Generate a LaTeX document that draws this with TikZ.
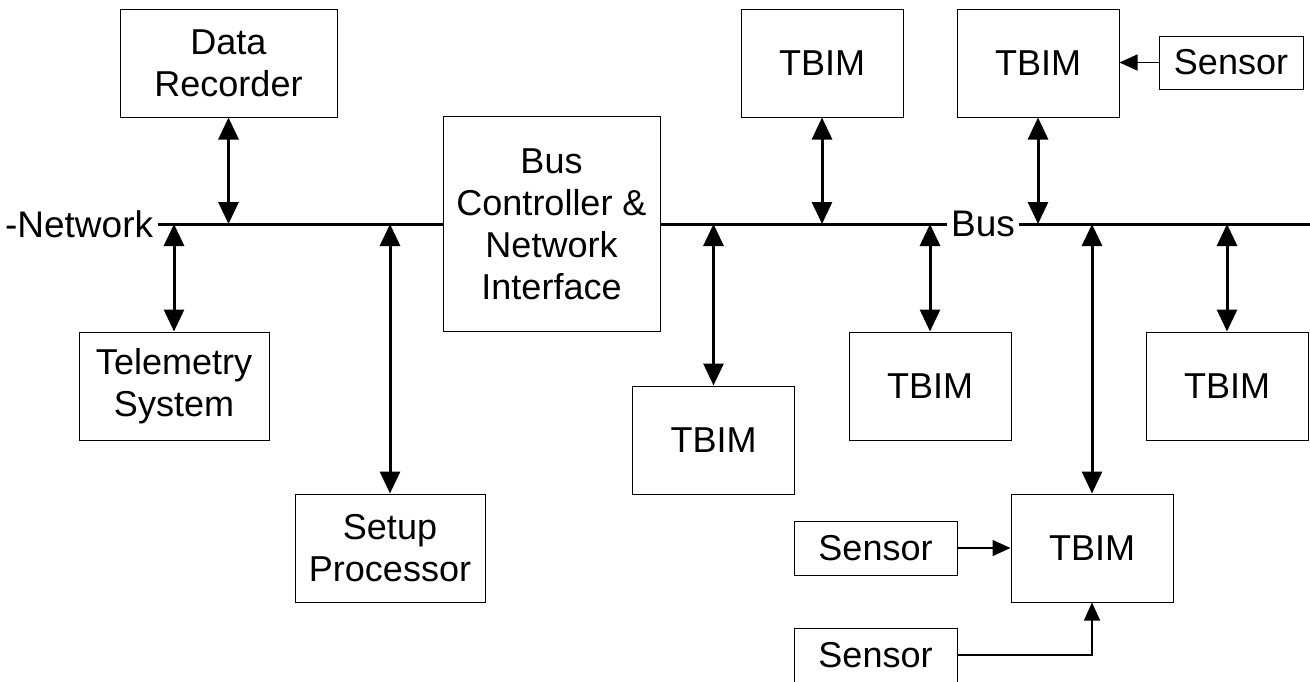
\documentclass[tikz,border=0pt]{standalone}
\usepackage{fontspec}
\setmainfont{Liberation Sans}
\usepackage{tikz}
\usetikzlibrary{positioning, arrows.meta}

\begin{document}
\begin{tikzpicture}[x=0.5pt, y=-0.5pt,
    box/.style={draw, line width=0.5pt, inner sep=0pt, align=center, font=\fontsize{18}{21}\selectfont},
    tbim/.style={box, minimum width=81pt, minimum height=54pt},
    sensor/.style={box, minimum width=81.5pt, minimum height=27pt},
    label/.style={inner xsep=2pt, inner ysep=0pt, font=\fontsize{18.5}{21}\selectfont},
    busline/.style={line width=1.5pt},
    busarrow/.style={line width=1.5pt, {Triangle[length=11pt,width=10pt]}-{Triangle[length=11pt,width=10pt]}},
    sigarrow/.style={line width=0.75pt, -{Triangle[length=9pt,width=8pt]}}]
    \useasboundingbox (0,0) rectangle (1310,681);
    \clip (0,0) rectangle (1310,681);

    % Bus labels
    \node[label, anchor=east] (net) at (157.5,224) {-Network};
    \node[label] (bus) at (983,224) {Bus};
    \coordinate (busend) at (1310,224);

    % Boxes on the network side
    \node[box, minimum width=108.5pt, minimum height=54pt] (dr) at (228.5,63) {Data\\Recorder};
    \node[box, minimum width=95pt, minimum height=54pt] (tel) at (174,386) {Telemetry\\System};
    \node[box, minimum width=95pt, minimum height=54pt] (setup) at (390,548) {Setup\\Processor};
    \node[box, minimum width=108.5pt, minimum height=107.5pt] (bc) at (551.5,224) {Bus\\Controller \&\\Network\\Interface};

    % TBIMs
    \foreach \n/\x/\y in {ta/822/63, tb/1038/63, tc/713.5/440, td/930/386, te/1227/386, tf/1092/548} {
      \node[tbim] (\n) at (\x,\y) {TBIM};
    }

    % Sensors
    \node[sensor, minimum width=72pt, minimum height=26.5pt] (sa) at (1231,62.5) {Sensor};
    \node[sensor] (sb) at (875.5,548) {Sensor};
    \node[sensor] (sc) at (875.5,655) {Sensor};

    % Draw bus
    \draw[busline] (net.east) -- (bc.west);
    \draw[busline] (bc.east) -- (bus.west);
    \draw[busline] (bus.east) -- (busend);

    % Connections to the bus
    \foreach \n in {dr, ta, tb} {
      \draw[busarrow] (\n.south) -- (\n.south |- busend);
    }
    \foreach \n in {tel, setup, tc, td, te, tf} {
      \draw[busarrow] (\n.north) -- (\n.north |- busend);
    }

    % Sensor inputs
    \draw[sigarrow] (sa.west) -- (tb.east |- sa.west);
    \draw[sigarrow] (sb.east) -- (tf.west |- sb.east);
    \draw[sigarrow] (sc.east) -| (tf.south);
\end{tikzpicture}
\end{document}
